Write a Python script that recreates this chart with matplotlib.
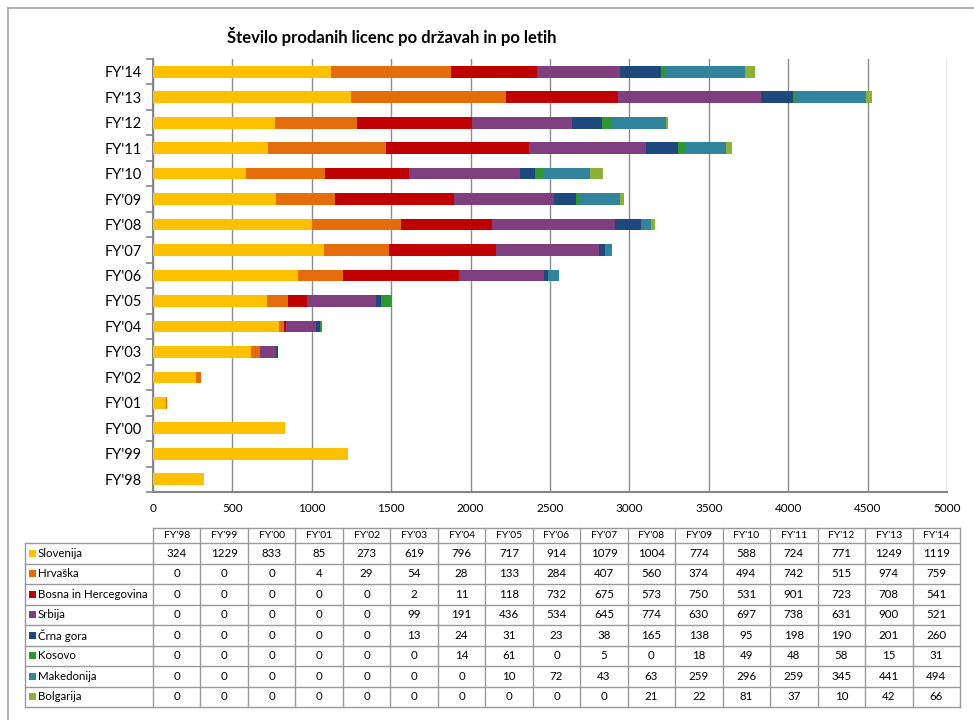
import numpy as np
import matplotlib
matplotlib.use('Agg')
import matplotlib.pyplot as plt
from matplotlib.patches import Rectangle
from matplotlib.lines import Line2D

plt.rcParams['font.family'] = ['Lato', 'DejaVu Sans']

########################### Data ###########################
years = ["FY'98", "FY'99", "FY'00", "FY'01", "FY'02", "FY'03", "FY'04", "FY'05", "FY'06",
         "FY'07", "FY'08", "FY'09", "FY'10", "FY'11", "FY'12", "FY'13", "FY'14"]
countries = ['Slovenija', 'Hrvaška', 'Bosna in Hercegovina', 'Srbija',
             'Črna gora', 'Kosovo', 'Makedonija', 'Bolgarija']

slovenija  = [324, 1229, 833, 85, 273, 619, 796, 717, 914, 1079, 1004, 774, 588, 724, 771, 1249, 1119]
hrvaska    = [0, 0, 0, 4, 29, 54, 28, 133, 284, 407, 560, 374, 494, 742, 515, 974, 759]
bih        = [0, 0, 0, 0, 0, 2, 11, 118, 732, 675, 573, 750, 531, 901, 723, 708, 541]
srbija     = [0, 0, 0, 0, 0, 99, 191, 436, 534, 645, 774, 630, 697, 738, 631, 900, 521]
crna_gora  = [0, 0, 0, 0, 0, 13, 24, 31, 23, 38, 165, 138, 95, 198, 190, 201, 260]
kosovo     = [0, 0, 0, 0, 0, 0, 14, 61, 0, 5, 0, 18, 49, 48, 58, 15, 31]
makedonija = [0, 0, 0, 0, 0, 0, 0, 10, 72, 43, 63, 259, 296, 259, 345, 441, 494]
bolgarija  = [0, 0, 0, 0, 0, 0, 0, 0, 0, 0, 21, 22, 81, 37, 10, 42, 66]

series = [slovenija, hrvaska, bih, srbija, crna_gora, kosovo, makedonija, bolgarija]
colors = ['#FFC000', '#E46C0A', '#C00000', '#7F3F7F', '#1F497D', '#2E9632', '#31849B', '#8DB03A']

title = 'Število prodanih licenc po državah in po letih'
xticks = np.arange(0, 5001, 500)

########################### Figure ###########################
W, H = 974, 720
fig = plt.figure(figsize=(W / 100, H / 100), dpi=100)

# outer chart frame (left + top edges visible)
fig.add_artist(Line2D([8 / W, 8 / W], [0, 1 - 8 / H], color='#A6A6A6', lw=1.2))
fig.add_artist(Line2D([8 / W, 1], [1 - 8 / H, 1 - 8 / H], color='#A6A6A6', lw=1.2))

x0, x1 = 153, 960
ax = fig.add_axes([x0 / W, 1 - 492 / H, (947 - x0) / W, (492 - 59) / H])

y = np.arange(len(years))
left = np.zeros(len(years))
for vals, c in zip(series, colors):
    ax.barh(y, vals, left=left, height=0.46, color=c, linewidth=0, zorder=3)
    left += np.array(vals)

ax.set_xlim(0, 5000)
ax.set_ylim(-0.5, len(years) - 0.5)
ax.set_xticks(xticks)
ax.set_xticklabels([str(v) for v in xticks], fontsize=8.5)
ax.tick_params(axis='x', length=0, pad=8)
ax.set_yticks(y)
ax.set_yticklabels(years, fontsize=10.5)
ax.tick_params(axis='y', which='major', length=0, pad=8)
ax.set_yticks(np.arange(-0.5, len(years), 1), minor=True)
ax.tick_params(axis='y', which='minor', length=5, color='#868686', width=1.2, direction='out')
ax.grid(axis='x', color='#8C8C8C', lw=1, zorder=0)
for s in ['top', 'right']:
    ax.spines[s].set_visible(False)
for s in ['left', 'bottom']:
    ax.spines[s].set_color('#868686')
    ax.spines[s].set_linewidth(1.5)
fig.text(392 / W, 1 - 37 / H, title, ha='center', va='center', fontsize=12, fontweight='bold')

########################### Data table ###########################
tab = fig.add_axes([0, 0, 1, 1])
tab.set_xlim(0, W)
tab.set_ylim(H, 0)
tab.axis('off')

lab_x = 25
head_top, head_bot, bottom = 528, 543, 707
cw = (x1 - x0) / len(years)
rh = (bottom - head_bot) / len(countries)
lc = '#999999'

# header
for j, yr in enumerate(years):
    tab.text(x0 + (j + 0.5) * cw, (head_top + head_bot) / 2, yr, ha='center', va='center', fontsize=7.5)
tab.plot([x0, x1], [head_top, head_top], color=lc, lw=1)
for j in range(len(years) + 1):
    tab.plot([x0 + j * cw] * 2, [head_top, bottom], color=lc, lw=1)
tab.plot([lab_x, lab_x], [head_bot, bottom], color=lc, lw=1)
for i in range(len(countries) + 1):
    tab.plot([lab_x, x1], [head_bot + i * rh] * 2, color=lc, lw=1)

# rows
for i, (name, vals, c) in enumerate(zip(countries, series, colors)):
    cy = head_bot + (i + 0.5) * rh
    tab.add_patch(Rectangle((lab_x + 4, cy - 3.5), 7, 7, color=c, lw=0))
    tab.text(lab_x + 13, cy, name, ha='left', va='center', fontsize=8.3)
    for j, v in enumerate(vals):
        tab.text(x0 + (j + 0.5) * cw, cy, str(v), ha='center', va='center', fontsize=8.3)

fig.savefig('out.png', dpi=100)
